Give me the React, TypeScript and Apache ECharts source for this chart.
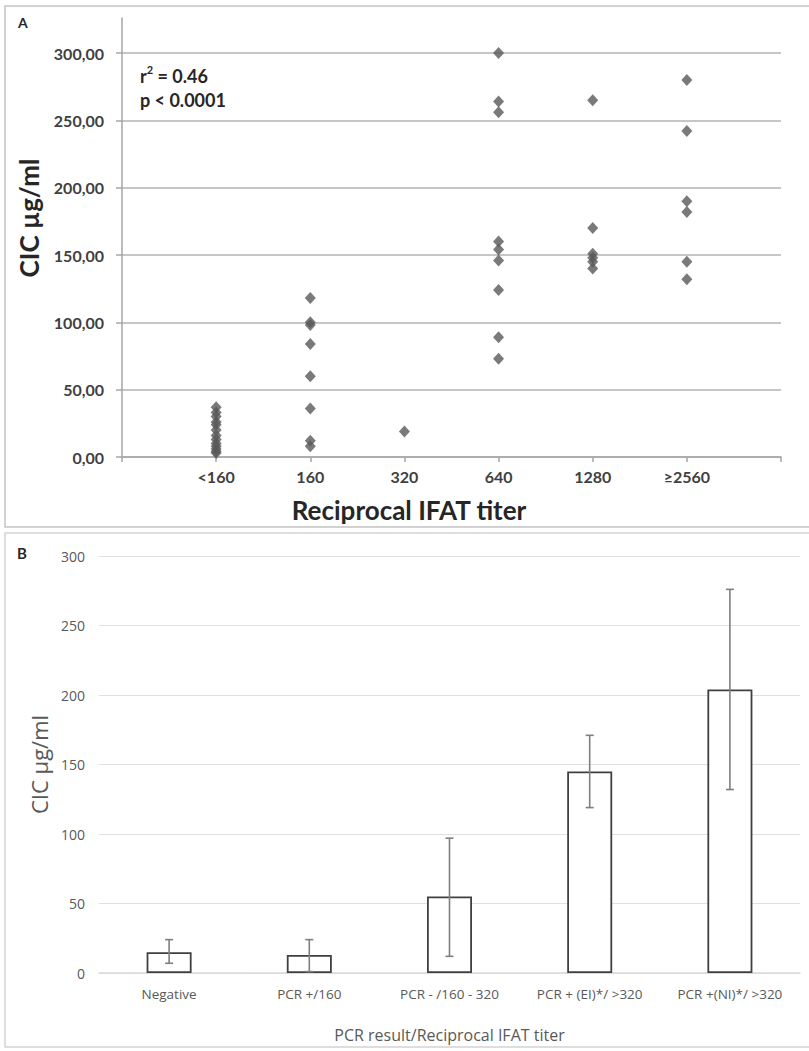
import React, { useEffect, useRef } from "react";
import * as echarts from "echarts";

// Panel A: CIC (µg/ml) by reciprocal IFAT titer
const titerCategories = ["<160", "160", "320", "640", "1280", "≥2560"];
const cicLt160 = [37, 33, 30, 26, 24, 20, 16, 13, 10, 8, 6, 4, 3];
const cic160 = [118, 100, 98, 84, 60, 36, 12, 8];
const cic320 = [19];
const cic640 = [300, 264, 256, 160, 154, 146, 124, 89, 73];
const cic1280 = [265, 170, 151, 148, 145, 140];
const cic2560 = [280, 242, 190, 182, 145, 132];
const yTicksA = [0, 50, 100, 150, 200, 250, 300];

// Panel B: mean CIC with range by PCR result / titer
const pcrCategories = [
  "Negative",
  "PCR +/160",
  "PCR - /160 - 320",
  "PCR + (EI)*/ >320",
  "PCR +(NI)*/ >320",
];
const meanCIC = [15, 13, 55, 145, 204];
const errLow = [7, 1, 12, 119, 132];
const errHigh = [24, 24, 97, 171, 276];

export default function App() {
  const ref = useRef<HTMLDivElement>(null);

  useEffect(() => {
    if (!ref.current) return;
    const chart = echarts.init(ref.current, null, { renderer: "svg" });

    const groups = [cicLt160, cic160, cic320, cic640, cic1280, cic2560];
    const scatterData: number[][] = [];
    groups.forEach((vals, i) => vals.forEach((v) => scatterData.push([i + 1, v])));

    const errData = pcrCategories.map((_, i) => [i, errLow[i], errHigh[i]]);

    const boldFont = "Lato";
    const regFont = "Open Sans";

    chart.setOption({
      animation: false,
      backgroundColor: "#ffffff",
      grid: [
        { left: 122, right: 28, top: 18, bottom: 594, containLabel: false },
        { left: 99, right: 9, top: 556, bottom: 78, containLabel: false },
      ],
      xAxis: [
        {
          gridIndex: 0,
          type: "value",
          min: 0,
          max: 7,
          interval: 1,
          axisLine: { show: true, lineStyle: { color: "#a6a6a6", width: 1.5 } },
          axisTick: { show: true, length: 5, lineStyle: { color: "#a6a6a6", width: 1.5 } },
          splitLine: { show: false },
          axisLabel: {
            margin: 11,
            color: "#404040",
            fontFamily: boldFont,
            fontWeight: "bold",
            fontSize: 16,
            formatter: (v: number) => titerCategories[v - 1] ?? "",
          },
        },
        {
          gridIndex: 1,
          type: "category",
          data: pcrCategories,
          axisLine: { show: true, lineStyle: { color: "#d9d9d9", width: 1.5 } },
          axisTick: { show: false },
          axisLabel: {
            margin: 14,
            color: "#595959",
            fontFamily: regFont,
            fontSize: 13.5,
            interval: 0,
          },
          name: "PCR result/Reciprocal IFAT titer",
          nameLocation: "middle",
          nameGap: 54,
          nameTextStyle: { color: "#595959", fontFamily: regFont, fontSize: 16 },
        },
      ],
      yAxis: [
        {
          gridIndex: 0,
          type: "value",
          min: 0,
          max: 326,
          interval: 50,
          axisLine: { show: true, lineStyle: { color: "#a6a6a6", width: 1.5 } },
          axisTick: {
            show: true,
            length: 6,
            customValues: yTicksA,
            lineStyle: { color: "#a6a6a6", width: 1.5 },
          },
          splitLine: {
            show: true,
            lineStyle: { color: "#b3b3b3", width: 1.5 },
          },
          axisLabel: {
            margin: 18,
            customValues: yTicksA,
            color: "#404040",
            fontFamily: boldFont,
            fontWeight: "bold",
            fontSize: 16,
            formatter: (v: number) => v.toFixed(2).replace(".", ","),
          },
        },
        {
          gridIndex: 1,
          type: "value",
          min: 0,
          max: 300,
          interval: 50,
          axisLine: { show: false },
          axisTick: { show: false },
          splitLine: { show: true, lineStyle: { color: "#e0e0e0", width: 1.2 } },
          axisLabel: {
            margin: 14,
            color: "#595959",
            fontFamily: regFont,
            fontSize: 14,
          },
          name: "CIC µg/ml",
          nameLocation: "middle",
          nameGap: 45,
          nameTextStyle: { color: "#595959", fontFamily: regFont, fontSize: 22 },
        },
      ],
      series: [
        {
          type: "scatter",
          xAxisIndex: 0,
          yAxisIndex: 0,
          symbol: "diamond",
          symbolSize: [11, 12],
          itemStyle: { color: "#595959" },
          data: scatterData,
        },
        {
          type: "bar",
          xAxisIndex: 1,
          yAxisIndex: 1,
          barWidth: 45,
          itemStyle: { color: "#ffffff", borderColor: "#404040", borderWidth: 1.8 },
          data: meanCIC,
          z: 2,
        },
        {
          type: "custom",
          xAxisIndex: 1,
          yAxisIndex: 1,
          z: 3,
          encode: { x: 0, y: [1, 2] },
          data: errData,
          renderItem: (params: any, api: any) => {
            const x = api.value(0);
            const lo = api.coord([x, api.value(1)]);
            const hi = api.coord([x, api.value(2)]);
            const cap = 4;
            const style = { stroke: "#7f7f7f", lineWidth: 1.6 };
            return {
              type: "group",
              children: [
                { type: "line", shape: { x1: lo[0], y1: lo[1], x2: hi[0], y2: hi[1] }, style },
                { type: "line", shape: { x1: hi[0] - cap, y1: hi[1], x2: hi[0] + cap, y2: hi[1] }, style },
                { type: "line", shape: { x1: lo[0] - cap, y1: lo[1], x2: lo[0] + cap, y2: lo[1] }, style },
              ],
            };
          },
        },
      ],
      graphic: [
        {
          type: "rect",
          shape: { x: 5, y: 6, width: 830, height: 521 },
          style: { fill: "none", stroke: "#c4c4c4", lineWidth: 1.5 },
          silent: true,
          z: -1,
        },
        {
          type: "rect",
          shape: { x: 5, y: 533, width: 830, height: 514 },
          style: { fill: "none", stroke: "#d4d4d4", lineWidth: 1.5 },
          silent: true,
          z: -1,
        },
        {
          type: "text",
          x: 18,
          y: 15,
          style: { text: "A", fill: "#262626", font: "bold 14px Lato" },
        },
        {
          type: "text",
          x: 17,
          y: 545,
          style: { text: "B", fill: "#262626", font: "bold 15px Lato" },
        },
        {
          type: "text",
          x: 140,
          y: 64,
          style: {
            text: "{b|r}{sup|2}{b| = 0.46}\n{b|p < 0.0001}",
            fill: "#262626",
            rich: {
              b: { font: "bold 18px Lato", fill: "#262626", lineHeight: 24 },
              sup: { font: "bold 11px Lato", fill: "#262626", verticalAlign: "top", lineHeight: 24, padding: [0, 0, 8, 0] },
            },
          },
        },
        {
          type: "text",
          x: 29,
          y: 218,
          rotation: Math.PI / 2,
          style: {
            text: "CIC µg/ml",
            fill: "#262626",
            font: "bold 26px Lato",
            align: "center",
            verticalAlign: "middle",
          },
        },
        {
          type: "text",
          x: 409,
          y: 510,
          style: {
            text: "Reciprocal IFAT titer",
            fill: "#262626",
            font: "bold 26px Lato",
            align: "center",
            verticalAlign: "middle",
          },
        },
      ],
    });

    return () => chart.dispose();
  }, []);

  return (
    <div
      ref={ref}
      style={{ position: "absolute", left: 0, top: 0, width: 809, height: 1051 }}
    />
  );
}
